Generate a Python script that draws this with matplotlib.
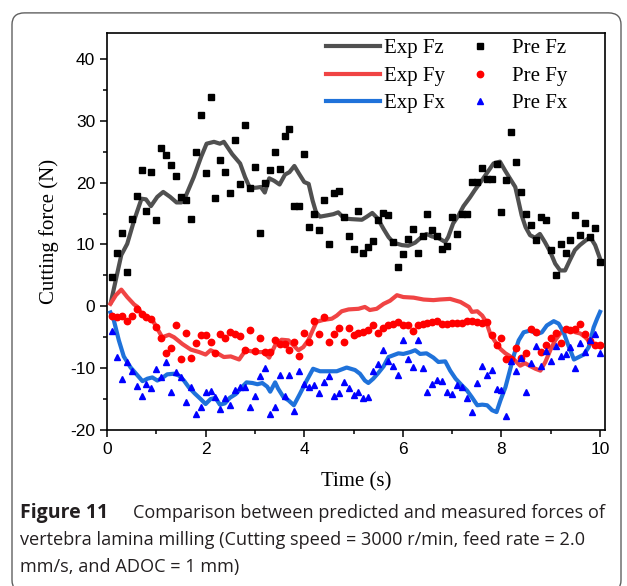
import numpy as np
import matplotlib
matplotlib.use("Agg")
import matplotlib.pyplot as plt
from matplotlib.patches import FancyBboxPatch
from matplotlib.lines import Line2D
from matplotlib.ticker import MultipleLocator

plt.rcParams["axes.unicode_minus"] = False

# sampling times of the predicted points (s)
t_pre = np.round(np.arange(1, 101) * 0.1, 1)

pre_fz = [4.8, 8.7, 11.9, 5.5, 14.1, 17.9, 22.0, 15.4, 21.8, 13.9,
          25.6, 24.4, 22.8, 21.0, 17.7, 17.2, 14.2, 25.0, 31.0, 21.6,
          33.9, 17.5, 23.7, 21.7, 18.4, 26.9, 19.8, 29.3, 19.1, 22.6,
          11.8, 20.0, 22.0, 25.0, 22.2, 27.6, 28.7, 16.3, 16.3, 24.7,
          12.9, 14.9, 12.4, 17.2, 10.0, 18.3, 18.7, 14.5, 11.4, 9.2,
          15.4, 8.6, 9.6, 10.6, 13.9, 15.1, 14.7, 10.4, 6.3, 8.4,
          10.9, 12.5, 8.6, 11.4, 14.9, 12.3, 11.3, 9.3, 9.7, 14.5,
          11.7, 14.9, 14.9, 20.1, 20.1, 22.4, 20.6, 20.6, 23.0, 15.2,
          20.5, 28.2, 23.3, 18.5, 14.9, 13.2, 10.7, 14.5, 13.9, 9.1,
          5.1, 10.0, 8.7, 10.8, 14.8, 11.5, 13.5, 11.2, 12.7, 7.1]

pre_fy = [-1.6, -1.7, -1.6, -2.4, -1.6, -0.4, -1.3, -1.8, -2.0, -3.4,
          -5.2, -7.5, -6.8, -3.0, -8.5, -4.3, -8.4, -5.9, -4.6, -4.6,
          -5.7, -7.5, -4.4, -5.1, -4.2, -4.4, -4.8, -7.1, -3.9, -7.2,
          -5.2, -7.4, -7.4, -5.5, -6.1, -6.1, -7.1, -5.7, -8.1, -4.3,
          -5.8, -2.4, -4.4, -1.7, -5.8, -4.4, -3.5, -5.8, -3.5, -4.6,
          -4.3, -4.2, -3.9, -3.0, -4.3, -3.5, -3.1, -2.8, -2.5, -3.1,
          -3.0, -4.0, -3.0, -2.8, -2.7, -2.5, -2.4, -2.8, -2.9, -2.7,
          -2.7, -2.7, -2.4, -2.4, -2.5, -2.7, -2.5, -4.7, -6.3, -5.2,
          -8.5, -8.5, -6.7, -8.3, -7.6, -3.6, -4.1, -7.4, -6.2, -5.2,
          -4.3, -5.9, -3.6, -3.9, -3.6, -2.8, -4.4, -5.6, -6.3, -6.3]

pre_fx = [-4.0, -8.2, -11.7, -9.0, -10.5, -12.9, -14.5, -12.5, -13.2, -10.2,
          -11.5, -9.0, -13.9, -10.7, -11.5, -15.4, -13.1, -17.4, -16.2, -13.9,
          -13.7, -14.7, -16.6, -14.8, -15.9, -13.6, -13.0, -13.1, -16.3, -14.5,
          -11.2, -10.0, -17.4, -16.2, -11.1, -14.5, -11.1, -16.9, -10.5, -12.5,
          -13.1, -12.7, -14.0, -12.3, -11.3, -14.5, -14.0, -12.3, -13.2, -14.3,
          -13.8, -14.9, -14.7, -10.5, -9.3, -7.1, -8.8, -9.6, -11.1, -5.5,
          -8.5, -9.8, -5.5, -9.9, -13.9, -12.5, -11.9, -12.0, -13.9, -14.2,
          -12.8, -13.1, -14.9, -17.1, -12.4, -9.6, -11.1, -10.3, -13.4, -13.6,
          -17.7, -8.9, -10.5, -8.3, -13.9, -9.2, -6.4, -9.7, -7.2, -8.9,
          -6.4, -8.1, -7.7, -6.5, -10.0, -5.9, -7.4, -5.5, -4.5, -7.6]

# measured (experimental) curves
t_exp_fz = [0.08, 0.29, 0.41, 0.55, 0.70, 0.79, 0.89, 1.02, 1.14, 1.28, 1.41, 1.51,
            1.59, 1.76, 1.91, 2.02, 2.17, 2.29, 2.37, 2.54, 2.70, 2.80, 2.90, 3.04,
            3.12, 3.20, 3.29, 3.39, 3.50, 3.61, 3.70, 3.80, 3.89, 4.00, 4.09, 4.17,
            4.24, 4.32, 4.46, 4.59, 4.69, 4.81, 4.96, 5.17, 5.27, 5.38, 5.49, 5.61,
            5.71, 5.81, 5.98, 6.11, 6.25, 6.38, 6.48, 6.59, 6.71, 6.86, 6.92, 7.02,
            7.13, 7.23, 7.36, 7.46, 7.57, 7.70, 7.84, 7.97, 8.07, 8.17, 8.28, 8.34,
            8.41, 8.49, 8.58, 8.68, 8.78, 8.88, 8.99, 9.09, 9.19, 9.29, 9.39, 9.49,
            9.59, 9.70, 9.80, 9.90, 10.0]
exp_fz = [0.7, 8.3, 10.1, 13.9, 17.4, 17.3, 16.2, 17.7, 18.5, 17.7, 16.8, 16.8,
          17.7, 20.9, 24.2, 26.3, 26.6, 26.3, 26.6, 24.6, 23.1, 20.9, 19.1, 19.2,
          19.3, 18.4, 20.7, 20.3, 19.7, 21.3, 21.7, 22.7, 21.5, 20.1, 19.8, 17.1,
          15.2, 14.5, 14.7, 14.9, 15.2, 14.2, 14.1, 14.0, 14.5, 15.1, 14.2, 12.5,
          11.2, 10.3, 9.9, 9.8, 10.3, 11.2, 11.7, 11.3, 11.1, 10.4, 11.2, 13.4,
          14.7, 16.2, 17.6, 18.8, 20.0, 21.5, 23.1, 23.4, 22.0, 20.7, 19.3, 17.2,
          14.7, 12.8, 11.5, 11.1, 11.7, 10.4, 8.8, 6.9, 5.8, 5.8, 7.5, 9.1,
          9.9, 10.6, 11.2, 9.9, 7.7]

t_exp_fy = [0.07, 0.18, 0.29, 0.41, 0.55, 0.62, 0.72, 0.82, 0.92, 1.02, 1.12, 1.26,
            1.36, 1.53, 1.70, 1.87, 2.00, 2.10, 2.24, 2.37, 2.51, 2.68, 2.81, 2.95,
            3.08, 3.18, 3.29, 3.41, 3.54, 3.68, 3.78, 3.88, 3.98, 4.08, 4.17, 4.25,
            4.39, 4.56, 4.66, 4.76, 4.90, 5.10, 5.23, 5.33, 5.47, 5.61, 5.74, 5.88,
            6.01, 6.22, 6.42, 6.62, 6.75, 6.96, 7.17, 7.34, 7.40, 7.51, 7.61, 7.69,
            7.77, 7.88, 7.98, 8.08, 8.18, 8.28, 8.38, 8.48, 8.59, 8.69, 8.79, 8.89,
            8.99, 9.09, 9.19, 9.30, 9.40, 9.50, 9.60, 9.70, 9.80, 9.90, 10.0]
exp_fy = [0.4, 1.8, 2.7, 1.5, 0.3, -0.1, -1.5, -2.0, -2.2, -3.6, -5.0, -4.6,
          -5.0, -6.1, -7.0, -7.4, -7.8, -7.1, -7.6, -8.2, -8.1, -8.6, -7.1, -7.3,
          -7.4, -7.4, -8.3, -6.3, -5.4, -5.5, -6.3, -7.1, -6.6, -5.5, -3.9, -2.5,
          -2.2, -2.0, -1.5, -0.8, -0.5, -0.4, -0.1, -0.6, -0.4, 0.4, 0.9, 1.8,
          1.5, 1.4, 1.1, 1.0, 1.1, 1.2, 0.7, -0.1, -0.9, -0.8, -1.5, -2.5,
          -4.4, -5.8, -6.9, -7.6, -8.1, -8.8, -9.6, -9.2, -9.7, -10.1, -10.4, -9.0,
          -7.1, -5.5, -4.4, -3.6, -3.8, -4.2, -4.4, -5.0, -5.8, -6.3, -6.6]

t_exp_fx = [0.07, 0.14, 0.24, 0.34, 0.48, 0.60, 0.72, 0.82, 0.92, 1.02, 1.12, 1.22,
            1.36, 1.46, 1.56, 1.66, 1.78, 1.90, 2.00, 2.10, 2.20, 2.29, 2.39, 2.49,
            2.61, 2.71, 2.83, 2.95, 3.05, 3.15, 3.25, 3.31, 3.41, 3.47, 3.58, 3.68,
            3.79, 3.91, 4.05, 4.18, 4.32, 4.49, 4.66, 4.86, 5.03, 5.13, 5.23, 5.30,
            5.40, 5.50, 5.61, 5.71, 5.81, 5.91, 6.01, 6.15, 6.25, 6.35, 6.48, 6.62,
            6.72, 6.86, 6.96, 7.07, 7.20, 7.30, 7.40, 7.51, 7.61, 7.71, 7.81, 7.90,
            7.98, 8.08, 8.18, 8.26, 8.35, 8.45, 8.59, 8.72, 8.82, 8.92, 9.06, 9.16,
            9.26, 9.37, 9.47, 9.57, 9.67, 9.77, 9.87, 9.94, 10.0]
exp_fx = [-1.0, -2.3, -5.5, -8.1, -9.9, -11.0, -12.1, -11.7, -11.5, -12.0, -11.6, -11.0,
          -10.9, -11.2, -12.0, -13.1, -14.1, -15.0, -15.8, -15.0, -14.8, -15.9, -15.7, -14.8,
          -14.2, -13.3, -12.3, -12.4, -12.6, -12.4, -13.0, -13.8, -12.3, -13.3, -14.7, -15.2,
          -16.0, -14.2, -12.0, -10.1, -10.5, -10.5, -10.5, -9.9, -10.3, -10.9, -12.0, -12.4,
          -11.7, -10.8, -9.7, -8.2, -7.9, -7.6, -7.7, -7.4, -7.1, -7.7, -7.6, -8.3,
          -9.0, -8.9, -10.4, -11.7, -12.8, -13.6, -14.7, -16.0, -15.9, -16.0, -16.8, -17.1,
          -15.2, -13.1, -10.1, -7.7, -5.5, -4.2, -3.9, -4.5, -4.2, -3.1, -2.4, -2.8,
          -4.2, -6.6, -8.6, -8.2, -7.8, -6.6, -3.4, -2.0, -0.9]

c_fz, c_fy, c_fx = "#505050", "#f04444", "#1f72da"

fig = plt.figure(figsize=(6.27, 5.86), dpi=100)
ax = fig.add_axes([107 / 627, 1 - 430 / 586, 498 / 627, 397 / 586])

lw = 3.0
ax.plot(t_exp_fz, exp_fz, color=c_fz, lw=lw, solid_joinstyle="round", zorder=3)
ax.plot(t_exp_fy, exp_fy, color=c_fy, lw=lw, solid_joinstyle="round", zorder=3)
ax.plot(t_exp_fx, exp_fx, color=c_fx, lw=lw, solid_joinstyle="round", zorder=3)
ax.plot(t_pre, pre_fz, ls="none", marker="s", ms=4.2, color="black", zorder=4)
ax.plot(t_pre, pre_fy, ls="none", marker="o", ms=4.6, color="#ff0000", zorder=4)
ax.plot(t_pre, pre_fx, ls="none", marker="^", ms=5.0, color="#0000ff", zorder=4)

ax.set_xlim(0, 10.1)
ax.set_ylim(-20, 44.2)
ax.xaxis.set_major_locator(MultipleLocator(2))
ax.xaxis.set_minor_locator(MultipleLocator(1))
ax.yaxis.set_major_locator(MultipleLocator(10))
ax.yaxis.set_minor_locator(MultipleLocator(5))
ax.tick_params(which="both", direction="out", width=1.1, labelsize=12.5,
               labelfontfamily="Liberation Sans", colors="black")
ax.tick_params(which="major", length=5)
ax.tick_params(which="minor", length=3)
for s in ax.spines.values():
    s.set_linewidth(1.2)

serif = "Liberation Serif"
ax.set_xlabel("Time (s)", family=serif, fontsize=15, labelpad=11)
ax.set_ylabel("Cutting force (N)", family=serif, fontsize=15, labelpad=8)

handles = [Line2D([], [], color=c_fz, lw=lw),
           Line2D([], [], color=c_fy, lw=lw),
           Line2D([], [], color=c_fx, lw=lw),
           Line2D([], [], ls="none", marker="s", ms=4.2, color="black"),
           Line2D([], [], ls="none", marker="o", ms=4.6, color="#ff0000"),
           Line2D([], [], ls="none", marker="^", ms=5.0, color="#0000ff")]
labels = ["Exp Fz", "Exp Fy", "Exp Fx", "Pre Fz", "Pre Fy", "Pre Fx"]
ax.legend(handles, labels, ncol=2, loc="upper right", bbox_to_anchor=(0.953, 1.022),
          frameon=False, prop={"family": serif, "size": 15},
          handlelength=2.6, handletextpad=0.2, columnspacing=0.4,
          labelspacing=0.38, borderpad=0.2)

# caption and rounded frame
fig.patches.append(FancyBboxPatch((12 / 627, -0.01), 609 / 627, 0.988,
                                  boxstyle="round,pad=0,rounding_size=0.02",
                                  transform=fig.transFigure, fill=False,
                                  ec="#606060", lw=1.0))
cap = "Open Sans"
cc = "#231f20"
fs = 13.1
fig.text(20 / 627, 1 - 513 / 586, "Figure 11", family=cap, weight="bold",
         fontsize=14.0, color=cc, va="center")
fig.text(133 / 627, 1 - 513 / 586, "Comparison between predicted and measured forces of",
         family=cap, fontsize=fs, color=cc, va="center")
fig.text(20 / 627, 1 - 540 / 586,
         "vertebra lamina milling (Cutting speed = 3000 r/min, feed rate = 2.0",
         family=cap, fontsize=fs, color=cc, va="center")
fig.text(20 / 627, 1 - 567 / 586, "mm/s, and ADOC = 1 mm)",
         family=cap, fontsize=fs, color=cc, va="center")

fig.savefig("out.png", dpi=100)
